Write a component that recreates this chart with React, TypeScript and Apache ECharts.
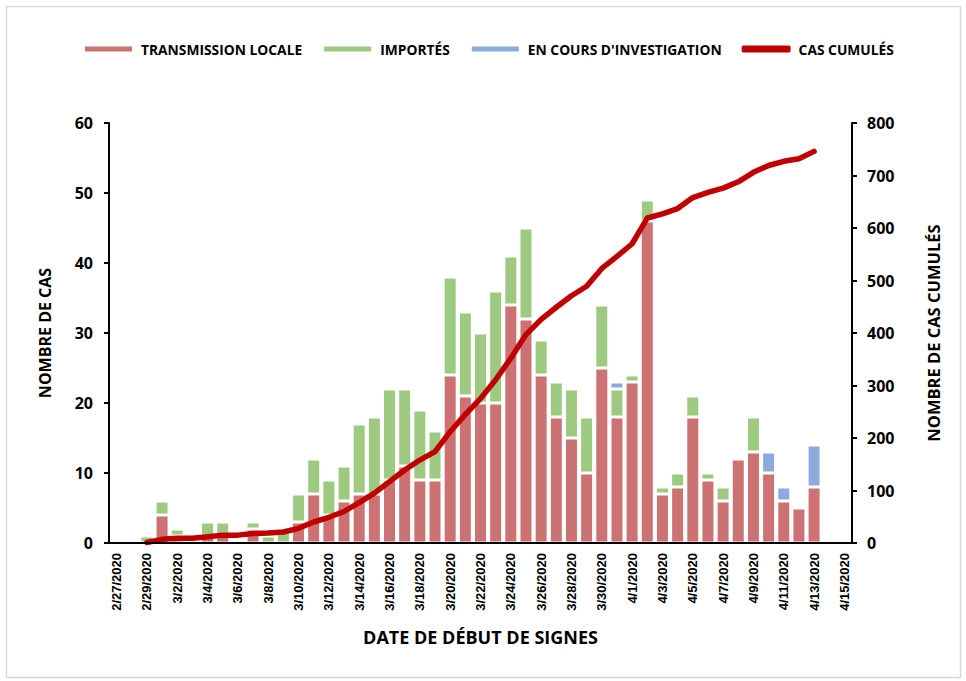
import React, { useEffect, useRef } from "react";
import * as echarts from "echarts";

const dates = [
  "2/27/2020","2/28/2020","2/29/2020","3/1/2020","3/2/2020","3/3/2020","3/4/2020","3/5/2020","3/6/2020","3/7/2020",
  "3/8/2020","3/9/2020","3/10/2020","3/11/2020","3/12/2020","3/13/2020","3/14/2020","3/15/2020","3/16/2020","3/17/2020",
  "3/18/2020","3/19/2020","3/20/2020","3/21/2020","3/22/2020","3/23/2020","3/24/2020","3/25/2020","3/26/2020","3/27/2020",
  "3/28/2020","3/29/2020","3/30/2020","3/31/2020","4/1/2020","4/2/2020","4/3/2020","4/4/2020","4/5/2020","4/6/2020",
  "4/7/2020","4/8/2020","4/9/2020","4/10/2020","4/11/2020","4/12/2020","4/13/2020","4/14/2020","4/15/2020",
];

const transmissionLocale = [
  0, 0, 0, 4, 1, 0, 1, 1, 0, 2,
  0, 0, 3, 7, 4, 6, 7, 7, 9, 11,
  9, 9, 24, 21, 20, 20, 34, 32, 24, 18,
  15, 10, 25, 18, 23, 46, 7, 8, 18, 9,
  6, 12, 13, 10, 6, 5, 8, 0, 0,
];

const importes = [
  0, 0, 1, 2, 1, 0, 2, 2, 0, 1,
  1, 2, 4, 5, 5, 5, 10, 11, 13, 11,
  10, 7, 14, 12, 10, 16, 7, 13, 5, 5,
  7, 8, 9, 4, 1, 3, 1, 2, 3, 1,
  2, 0, 5, 0, 0, 0, 0, 0, 0,
];

const enCoursInvestigation = [
  0, 0, 0, 0, 0, 0, 0, 0, 0, 0,
  0, 0, 0, 0, 0, 0, 0, 0, 0, 0,
  0, 0, 0, 0, 0, 0, 0, 0, 0, 0,
  0, 0, 0, 1, 0, 0, 0, 0, 0, 0,
  0, 0, 0, 3, 2, 0, 6, 0, 0,
];

const casCumules: (number | null)[] = [
  null, null, 1, 7, 9, 9, 12, 15, 15, 18,
  19, 21, 28, 40, 49, 60, 77, 95, 117, 139,
  158, 174, 212, 245, 275, 311, 352, 397, 426, 449,
  471, 489, 523, 546, 570, 619, 627, 637, 658, 668,
  676, 688, 706, 719, 727, 732, 746, null, null,
];

const leftTicks = { min: 0, max: 60, interval: 10 };
const rightTicks = { min: 0, max: 800, interval: 100 };

const COLORS = {
  local: "#cd7272",
  imported: "#9dca80",
  investigation: "#8eaadb",
  cumul: "#c00000",
};

const FONT = "'Open Sans', sans-serif";

const nz = (arr: number[]) => arr.map((v) => (v === 0 ? "-" : v));

export default function App() {
  const ref = useRef<HTMLDivElement>(null);

  useEffect(() => {
    if (!ref.current) return;
    const chart = echarts.init(ref.current, undefined, { renderer: "svg" });
    const barCommon = {
      type: "bar",
      stack: "cas",
      barWidth: 14,
      itemStyle: { borderColor: "#ffffff", borderWidth: 1.5 },
      z: 2,
    };
    chart.setOption({
      animation: false,
      backgroundColor: "#ffffff",
      graphic: [
        {
          type: "rect",
          shape: { x: 6.5, y: 6.5, width: 954, height: 671 },
          style: { fill: "none", stroke: "#d9d9d9", lineWidth: 1.5 },
          silent: true,
        },
      ],
      legend: {
        left: 83,
        top: 42,
        padding: 0,
        itemWidth: 49,
        itemHeight: 7,
        itemGap: 20,
        textStyle: { fontFamily: FONT, fontWeight: "bold", fontSize: 13.8, color: "#000", padding: [0, 0, 0, 3] },
        data: [
          { name: "TRANSMISSION LOCALE", icon: "rect" },
          { name: "IMPORTÉS", icon: "rect" },
          { name: "EN COURS D'INVESTIGATION", icon: "rect" },
          { name: "CAS CUMULÉS", icon: "roundRect" },
        ],
      },
      grid: { left: 109, right: 114, top: 123, bottom: 138, containLabel: false },
      xAxis: {
        type: "category",
        data: dates,
        boundaryGap: true,
        z: 10,
        axisLine: { show: true, lineStyle: { color: "#000", width: 2 } },
        axisTick: { show: false },
        axisLabel: {
          rotate: 90,
          interval: 1,
          margin: 10,
          fontFamily: "'Liberation Sans', Arial, sans-serif",
          fontWeight: "bold",
          fontSize: 13,
          color: "#000",
        },
        name: "DATE DE DÉBUT DE SIGNES",
        nameLocation: "middle",
        nameGap: 85,
        nameTextStyle: { fontFamily: FONT, fontWeight: "bold", fontSize: 18, color: "#000" },
      },
      yAxis: [
        {
          type: "value",
          min: leftTicks.min,
          max: leftTicks.max,
          interval: leftTicks.interval,
          position: "left",
          z: 10,
          axisLine: { show: true, lineStyle: { color: "#000", width: 2 } },
          axisTick: { show: true, length: 5, lineStyle: { color: "#000", width: 2 } },
          splitLine: { show: false },
          axisLabel: { margin: 16, fontFamily: FONT, fontWeight: "bold", fontSize: 16, color: "#000" },
          name: "NOMBRE DE CAS",
          nameLocation: "middle",
          nameRotate: 90,
          nameGap: 56,
          nameTextStyle: { fontFamily: FONT, fontWeight: "bold", fontSize: 16, color: "#000" },
        },
        {
          type: "value",
          min: rightTicks.min,
          max: rightTicks.max,
          interval: rightTicks.interval,
          position: "right",
          z: 10,
          axisLine: { show: true, lineStyle: { color: "#000", width: 2 } },
          axisTick: { show: true, length: 5, lineStyle: { color: "#000", width: 2 } },
          splitLine: { show: false },
          axisLabel: { margin: 15, fontFamily: FONT, fontWeight: "bold", fontSize: 16, color: "#000" },
          name: "NOMBRE DE CAS CUMULÉS",
          nameLocation: "middle",
          nameRotate: 90,
          nameGap: 73,
          nameTextStyle: { fontFamily: FONT, fontWeight: "bold", fontSize: 16.5, color: "#000" },
        },
      ],
      series: [
        { ...barCommon, name: "TRANSMISSION LOCALE", data: nz(transmissionLocale), itemStyle: { ...barCommon.itemStyle, color: COLORS.local } },
        { ...barCommon, name: "IMPORTÉS", data: nz(importes), itemStyle: { ...barCommon.itemStyle, color: COLORS.imported } },
        { ...barCommon, name: "EN COURS D'INVESTIGATION", data: nz(enCoursInvestigation), itemStyle: { ...barCommon.itemStyle, color: COLORS.investigation } },
        {
          type: "line",
          name: "CAS CUMULÉS",
          yAxisIndex: 1,
          data: casCumules,
          symbol: "none",
          showSymbol: false,
          smooth: false,
          z: 5,
          lineStyle: { color: COLORS.cumul, width: 5.5, cap: "round", join: "round" },
          itemStyle: { color: COLORS.cumul },
        },
      ],
    });
    return () => chart.dispose();
  }, []);

  return (
    <div
      ref={ref}
      style={{ position: "fixed", left: 0, top: 0, width: 966, height: 681, background: "#fff" }}
    />
  );
}
